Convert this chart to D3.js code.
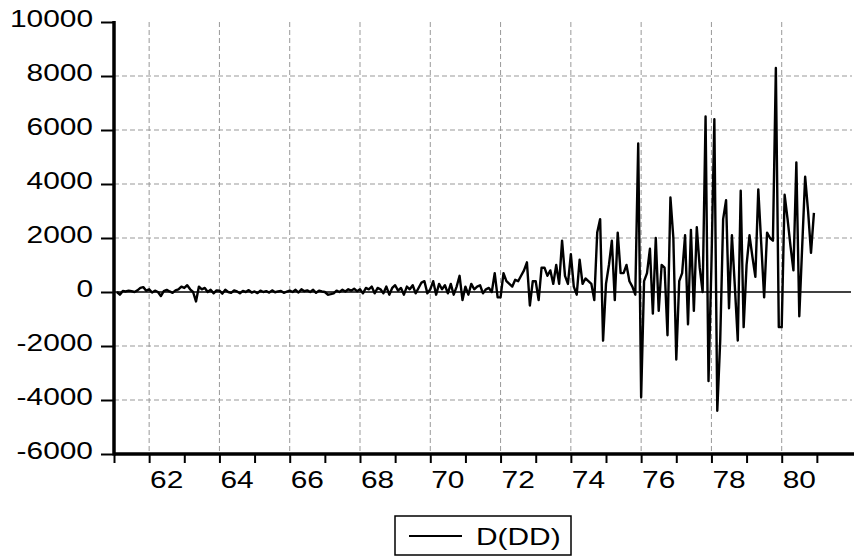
<!DOCTYPE html>
<html>
<head>
<meta charset="utf-8">
<script src="https://cdn.jsdelivr.net/npm/d3@7"></script>
<style>
  html, body { margin: 0; padding: 0; background: #fff; }
  svg { display: block; }
  text { font-family: "Liberation Sans", Arial, sans-serif; fill: #000; }
</style>
</head>
<body>
<script>
// ---- data (monthly, Feb 1961 .. Dec 1980) ----
const startYear = 1961;
const startMonth = 1; // 0 = Jan, so first obs is Feb 1961
const seriesName = "D(DD)";
const v1961 = [0, -100, 40, 20, 50, 30, 0, 60, 150, 180, 50];
const v1962 = [100, -20, 50, 0, -150, 30, 80, 20, -30, 60, 100, 200];
const v1963 = [150, 250, 100, 0, -350, 200, 100, 150, 0, 80, -50, 60];
const v1964 = [50, -60, 80, 0, -30, 60, 20, -50, 40, 0, 70, -20];
const v1965 = [20, -40, 50, 0, 30, -20, 60, -10, 20, 40, -30, 10];
const v1966 = [50, 0, 80, -20, 100, 30, 60, 0, 80, -30, 50, 20];
const v1967 = [0, -100, -80, -50, 50, 0, 80, 20, 100, 50, 120, 30];
const v1968 = [100, -50, 150, 100, 200, -50, 150, 100, -50, 200, -100, 150];
const v1969 = [250, 50, 150, -100, 200, 100, 250, -50, 150, 350, 400, -50];
const v1970 = [100, 400, -100, 300, 100, 250, -50, 300, -100, 200, 600, -300];
const v1971 = [200, -100, 300, 100, 200, 250, -50, 100, 150, 0, 700, -200];
const v1972 = [-200, 700, 400, 300, 200, 450, 400, 600, 800, 1100, -500, 400];
const v1973 = [400, -300, 900, 900, 600, 800, 300, 1000, 300, 1900, 600, 300];
const v1974 = [1400, 200, -100, 1200, 300, 500, 400, 300, -300, 2200, 2700, -1800];
const v1975 = [300, 1000, 1900, -300, 2200, 700, 700, 1000, 400, 200, -100, 5500];
const v1976 = [-3900, 400, 700, 1600, -800, 2000, -700, 1000, 900, -1600, 3500, 2000];
const v1977 = [-2500, 400, 700, 2100, -1200, 2300, -700, 2400, 900, 0, 6500, -3300];
const v1978 = [1000, 6400, -4400, -1800, 2700, 3400, -600, 2100, 200, -1800, 3750, -1300];
const v1979 = [1000, 2100, 1300, 560, 3800, 1800, -200, 2200, 2000, 1900, 8300, -1300];
const v1980 = [-1300, 3600, 2700, 1700, 800, 4800, -900, 1700, 4270, 3000, 1450, 2930];

const yTicks = [-6000, -4000, -2000, 0, 2000, 4000, 6000, 8000, 10000];
const yGrid = [-4000, -2000, 2000, 4000, 6000, 8000];
const xTickYears = d3.range(1961, 1982);
const xLabelYears = [1962, 1964, 1966, 1968, 1970, 1972, 1974, 1976, 1978, 1980];

(function () {
const values = [].concat(v1961, v1962, v1963, v1964, v1965, v1966, v1967, v1968, v1969,
  v1970, v1971, v1972, v1973, v1974, v1975, v1976, v1977, v1978, v1979, v1980);
const data = values.map((v, i) => ({ t: startYear + (startMonth + i) / 12, v }));

// ---- layout ----
const W = 857, H = 560;
const pL = 114, pR = 852, pT = 22, pB = 454;
const fs = 23, sx = 1.3;   // font size, horizontal stretch of the text

const svg = d3.select("body").append("svg").attr("width", W).attr("height", H);

const x = d3.scaleLinear().domain([1961, 1982]).range([pL, pR]);
const y = d3.scaleLinear().domain([-6000, 10000]).range([pB, pT]);

// grid
const grid = svg.append("g").attr("stroke", "#999").attr("stroke-width", 1)
  .attr("stroke-dasharray", "5,3").attr("fill", "none");
grid.selectAll("line.h").data(yGrid).join("line").attr("class", "h")
  .attr("x1", pL).attr("x2", pR).attr("y1", d => y(d)).attr("y2", d => y(d));
grid.selectAll("line.v").data(xLabelYears).join("line").attr("class", "v")
  .attr("x1", d => x(d)).attr("x2", d => x(d)).attr("y1", pT).attr("y2", pB);

// zero line
svg.append("line").attr("x1", pL).attr("x2", pR - 1)
  .attr("y1", y(0)).attr("y2", y(0)).attr("stroke", "#000").attr("stroke-width", 1.5);

// series
const line = d3.line().x(d => x(d.t)).y(d => y(d.v));
svg.append("path").datum(data).attr("d", line).attr("fill", "none")
  .attr("stroke", "#000").attr("stroke-width", 2.4).attr("stroke-linejoin", "round");

// y axis
const yAxis = d3.axisLeft(y).tickValues(yTicks).tickSize(13).tickPadding(8)
  .tickFormat(d => String(d));
const gy = svg.append("g").attr("transform", `translate(${pL},0)`).call(yAxis);
gy.select(".domain").remove();
gy.selectAll(".tick line").attr("stroke-width", 2);
gy.selectAll(".tick text").style("font-size", fs + "px")
  .attr("x", 0).attr("dy", "0.2em")
  .attr("transform", `translate(-21,0) scale(${sx},1)`);
svg.append("line").attr("x1", pL).attr("x2", pL).attr("y1", pT - 1).attr("y2", pB + 1.5)
  .attr("stroke", "#000").attr("stroke-width", 3.5);

// x axis
const xAxis = d3.axisBottom(x).tickValues(xTickYears).tickSize(9).tickFormat("");
const gx = svg.append("g").attr("transform", `translate(0,${pB})`).call(xAxis);
gx.select(".domain").remove();
gx.selectAll(".tick line").attr("stroke-width", 2);
svg.append("line").attr("x1", pL).attr("x2", pR + 2).attr("y1", pB).attr("y2", pB)
  .attr("stroke", "#000").attr("stroke-width", 3.5);
svg.append("g").selectAll("text").data(xLabelYears).join("text")
  .attr("transform", d => `translate(${x(d + 0.5)},${pB + 34}) scale(${sx},1)`)
  .attr("text-anchor", "middle").style("font-size", fs + "px")
  .text(d => String(d).slice(2));

// legend
const lg = svg.append("g").attr("transform", "translate(395,516)");
lg.append("rect").attr("width", 176).attr("height", 39).attr("fill", "#fff")
  .attr("stroke", "#000").attr("stroke-width", 1.5);
lg.append("line").attr("x1", 14).attr("x2", 67).attr("y1", 20).attr("y2", 20)
  .attr("stroke", "#000").attr("stroke-width", 2);
lg.append("text").attr("transform", `translate(81,29) scale(${sx},1)`)
  .style("font-size", fs + "px").text(seriesName);
})();
</script>
</body>
</html>
